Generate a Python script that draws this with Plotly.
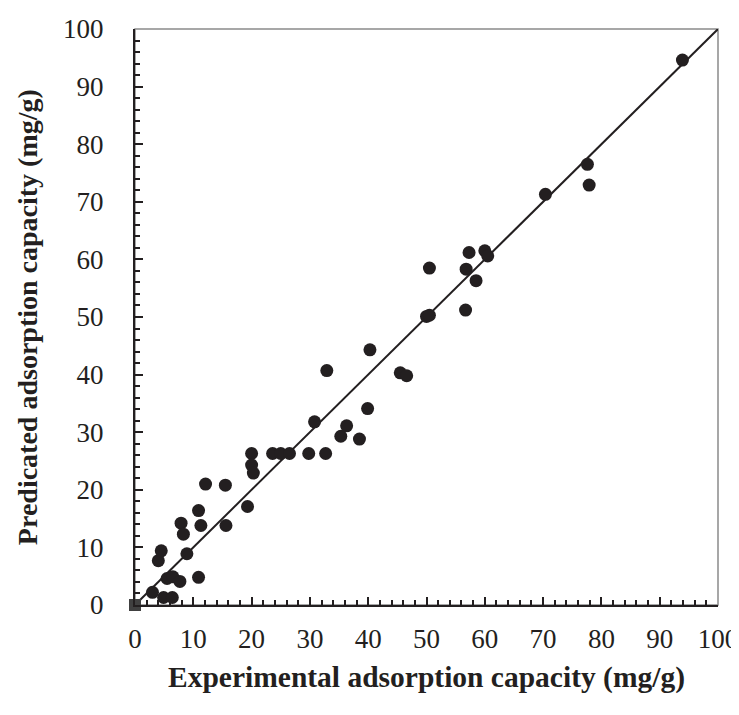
import plotly.graph_objects as go

# Experimental vs predicted adsorption capacity (mg/g)
experimental = [3.0, 4.9, 6.4, 5.5, 6.5, 7.7, 10.9, 8.9, 4.0, 4.5,
                7.9, 8.3, 10.9, 11.3, 12.1, 15.5, 15.6, 19.3, 20.0, 20.0,
                20.3, 23.6, 25.0, 26.5, 29.8, 32.7, 30.8, 35.3, 36.3, 38.5,
                39.9, 32.9, 40.3, 45.5, 46.6, 50.0, 50.5, 50.5, 56.7, 56.8,
                57.3, 58.5, 60.0, 60.5, 70.4, 77.6, 77.9, 93.9]
predicted = [2.2, 1.3, 1.3, 4.6, 4.9, 4.1, 4.8, 8.9, 7.7, 9.4,
             14.2, 12.3, 16.4, 13.8, 21.0, 20.8, 13.8, 17.1, 26.3, 24.3,
             22.9, 26.3, 26.3, 26.3, 26.3, 26.3, 31.8, 29.3, 31.1, 28.8,
             34.1, 40.7, 44.3, 40.3, 39.8, 50.1, 50.3, 58.5, 51.2, 58.3,
             61.2, 56.3, 61.5, 60.6, 71.3, 76.5, 72.9, 94.6]
origin_x = [0]
origin_y = [0]
line_x = [0, 100]
line_y = [0, 100]

x_title = "Experimental adsorption capacity (mg/g)"
y_title = "Predicated adsorption capacity (mg/g)"

fig = go.Figure()
fig.add_trace(go.Scatter(x=line_x, y=line_y, mode="lines",
                         line=dict(color="#231f20", width=2), showlegend=False,
                         hoverinfo="skip"))
fig.add_trace(go.Scatter(x=experimental, y=predicted, mode="markers",
                         marker=dict(color="#231f20", size=13), showlegend=False))
fig.add_trace(go.Scatter(x=origin_x, y=origin_y, mode="markers",
                         marker=dict(color="#404040", size=12, symbol="square"),
                         cliponaxis=False, showlegend=False))

font = "Liberation Serif, Times New Roman, serif"
axis_common = dict(
    range=[0, 100], dtick=10, showgrid=False, zeroline=False, automargin=False,
    showline=True, linecolor="#231f20", linewidth=2,
    ticks="inside", ticklen=8, tickwidth=2, tickcolor="#231f20",
    minor=dict(dtick=2, ticks="inside", ticklen=5, tickwidth=1.5, tickcolor="#231f20", showgrid=False),
    tickfont=dict(family=font, size=27, color="#231f20"),
)
fig.update_xaxes(**axis_common, ticklabelstandoff=9)
fig.update_yaxes(**axis_common, ticklabelstandoff=24)

fig.add_shape(type="rect", xref="paper", yref="paper", x0=0, y0=0, x1=1, y1=1,
              line=dict(color="#8a8a8a", width=1.5), layer="below")

fig.add_annotation(text="<b>" + x_title + "</b>", xref="paper", yref="paper",
                   x=0.5, y=-0.125, xanchor="center", yanchor="middle", showarrow=False,
                   font=dict(family=font, size=29.5, color="#231f20"))
fig.add_annotation(text="<b>" + y_title + "</b>", xref="paper", yref="paper",
                   x=-0.185, y=0.5, xanchor="center", yanchor="middle", showarrow=False,
                   textangle=-90,
                   font=dict(family=font, size=28, color="#231f20"))

fig.update_layout(
    width=731, height=707,
    margin=dict(l=127, r=21, t=21, b=110),
    paper_bgcolor="white", plot_bgcolor="white",
)
fig.write_html("out.html")
